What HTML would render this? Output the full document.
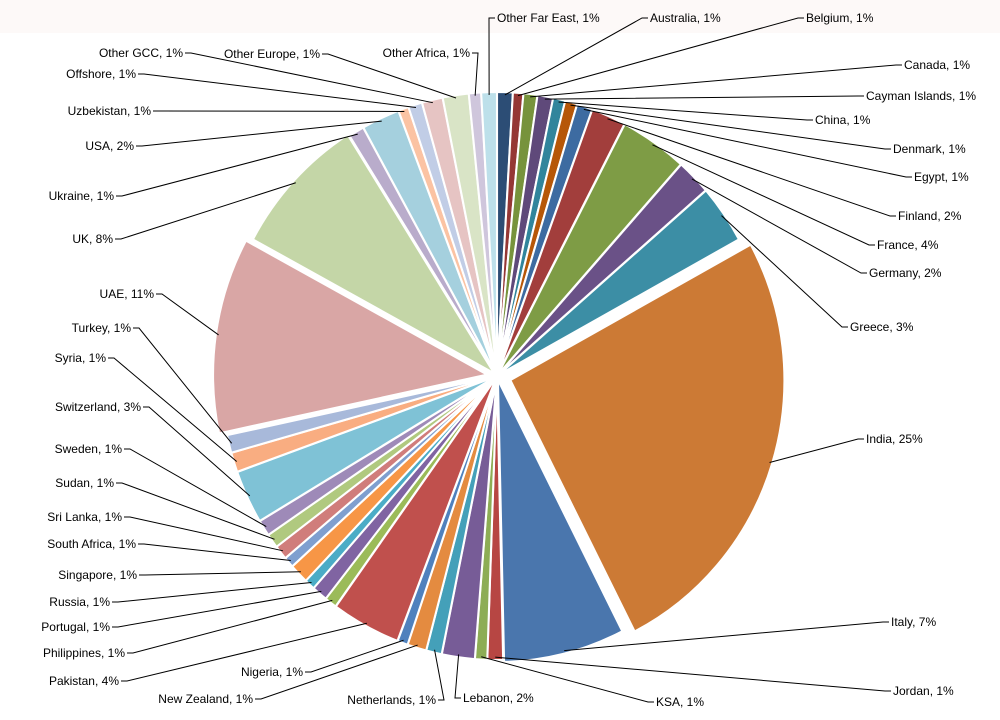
<!DOCTYPE html>
<html><head><meta charset="utf-8"><style>
html,body{margin:0;padding:0;background:#fff}
svg{display:block}
text{font-family:"Liberation Sans",sans-serif;font-size:12px;fill:#000}
</style></head><body>
<svg id="chart" width="1000" height="720">
<rect x="0" y="0" width="1000" height="33" fill="#fdf9f8"/>
<g id="slices"></g><g id="labels"></g>
</svg>
<script>
const categories=["Australia","Belgium","Canada","Cayman Islands","China","Denmark","Egypt","Finland","France","Germany","Greece","India","Italy","Jordan","KSA","Lebanon","Netherlands","New Zealand","Nigeria","Pakistan","Philippines","Portugal","Russia","Singapore","South Africa","Sri Lanka","Sudan","Sweden","Switzerland","Syria","Turkey","UAE","UK","Ukraine","USA","Uzbekistan","Offshore","Other GCC","Other Europe","Other Africa","Other Far East"];
const values=[0.9,0.6,0.8,0.9,0.7,0.7,0.9,2,3.9,2,3.3,25,7,0.9,0.7,1.9,0.9,1.1,0.6,4,0.7,0.9,0.6,1.1,0.6,0.8,0.8,0.9,3,1.1,1,11,8,0.9,2.2,0.6,0.8,1.2,1.5,0.7,0.9];
const pctLabels=["1%","1%","1%","1%","1%","1%","1%","2%","4%","2%","3%","25%","7%","1%","1%","2%","1%","1%","1%","4%","1%","1%","1%","1%","1%","1%","1%","1%","3%","1%","1%","11%","8%","1%","2%","1%","1%","1%","1%","1%","1%"];
const colors=["#2C4D75","#953735","#77933C","#5F497A","#31859C","#B65708","#3D6BA1","#A23E3C","#7E9C45","#6A5187","#3C8EA5","#CC7A35","#4A76AD","#B74643","#8DAD55","#775C97","#44A0B9","#E48B40","#4F81BD","#C0504D","#9BBB59","#8064A2","#4BACC6","#F79646","#7F9FCF","#D07D7B","#B0C97F","#9E8AB8","#7FC2D6","#F9AD81","#A8B9DA","#D9A6A5","#C4D6A7","#B9ACCB","#A5D0DE","#FBC3A3","#C1CDE6","#E6C4C3","#D9E4C6","#CFC6DC","#BDE0EA"];
// label layout: [x, y, anchor]
const labelLayout=[[650,22,"start"],[806,22,"start"],[904,69,"start"],[866,100,"start"],[815,124,"start"],[893,153,"start"],[914,181,"start"],[898,220,"start"],[877,249,"start"],[869,277,"start"],[850,331,"start"],[866,443,"start"],[891,626,"start"],[893,695,"start"],[656,706,"start"],[463,702,"start"],[436,704,"end"],[253,703,"end"],[303,676,"end"],[119,685,"end"],[125,657,"end"],[110,631,"end"],[110,606,"end"],[137,579,"end"],[136,548,"end"],[122,521,"end"],[114,487,"end"],[122,453,"end"],[141,411,"end"],[106,362,"end"],[131,332,"end"],[154,298,"end"],[113,243,"end"],[114,200,"end"],[134,150,"end"],[151,115,"end"],[136,78,"end"],[183,57,"end"],[320,58,"end"],[470,57,"end"],[497,22,"start"]];
const cx=497,cy=376,RX=274,RY=282;
const explode={11:14,31:10,12:4,32:4};
const total=values.reduce((a,b)=>a+b,0);
const sg=document.getElementById('slices'),lg=document.getElementById('labels');
const NS="http://www.w3.org/2000/svg";
function pt(a,k,ox,oy){return [ox+RX*k*Math.sin(a),oy-RY*k*Math.cos(a)];}
let cum=0;
values.forEach((v,i)=>{
  const a0=cum/total*2*Math.PI; cum+=v; const a1=cum/total*2*Math.PI; const am=(a0+a1)/2;
  const e=explode[i]||2; const ox=cx+e*Math.sin(am), oy=cy-e*Math.cos(am);
  const p0=pt(a0,1,ox,oy),p1=pt(a1,1,ox,oy);
  const path=document.createElementNS(NS,'path');
  path.setAttribute('d',`M${ox},${oy}L${p0[0]},${p0[1]}A${RX},${RY} 0 ${a1-a0>Math.PI?1:0} 1 ${p1[0]},${p1[1]}Z`);
  path.setAttribute('fill',colors[i]);path.setAttribute('stroke','#fff');path.setAttribute('stroke-width','2');
  
  
  sg.appendChild(path);
  const L=labelLayout[i]; const pe=pt(am,0.99,ox,oy);
  const lx=L[2]==="start"?L[0]-2:L[0]+2, ly=L[1]-4;
  const hx=L[2]==="start"?lx-6:lx+6;
  const line=document.createElementNS(NS,'polyline');
  line.setAttribute('points',`${lx},${ly} ${hx},${ly} ${pe[0]},${pe[1]}`);
  line.setAttribute('fill','none');line.setAttribute('stroke','#000');line.setAttribute('stroke-width','1');
  
  
  lg.appendChild(line);
  const t=document.createElementNS(NS,'text');
  t.setAttribute('x',L[0]);t.setAttribute('y',L[1]);t.setAttribute('text-anchor',L[2]);
  t.textContent=categories[i]+", "+pctLabels[i];
  
  
  lg.appendChild(t);
});
</script>
</body></html>
